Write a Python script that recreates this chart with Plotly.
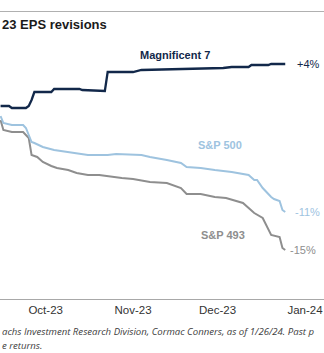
import pandas as pd
import plotly.graph_objects as go

# ---- data (values in % revision) ----
mag7_dates = ["2023-09-15", "2023-09-18", "2023-09-19", "2023-09-24", "2023-09-25", "2023-09-26",
              "2023-09-27", "2023-10-03", "2023-10-04", "2023-10-13", "2023-10-14", "2023-10-22",
              "2023-10-23", "2023-11-01", "2023-11-04", "2023-11-21", "2023-11-30", "2023-12-03",
              "2023-12-06", "2023-12-12", "2023-12-13", "2023-12-19", "2023-12-20", "2023-12-25"]
mag7_vals = [-0.2, -0.2, -0.4, -0.4, -0.2, 0.4,
             1.2, 1.2, 1.5, 1.5, 1.4, 1.3,
             3.2, 3.2, 3.4, 3.5, 3.6, 3.6,
             3.7, 3.7, 3.9, 3.9, 4.0, 4.0]

spx_dates = ["2023-09-15", "2023-09-16", "2023-09-19", "2023-09-23", "2023-09-24", "2023-09-26",
             "2023-09-27", "2023-09-30", "2023-10-04", "2023-10-09", "2023-10-16", "2023-10-23",
             "2023-10-26", "2023-11-04", "2023-11-07", "2023-11-13", "2023-11-18", "2023-11-20",
             "2023-11-25", "2023-11-30", "2023-12-06", "2023-12-12", "2023-12-14", "2023-12-15",
             "2023-12-17", "2023-12-20", "2023-12-21", "2023-12-23", "2023-12-24", "2023-12-25"]
spx_vals = [-1.2, -1.9, -2.1, -2.1, -2.4, -3.8,
            -3.9, -4.3, -4.6, -4.8, -5.1, -5.1,
            -5.0, -5.1, -5.3, -5.6, -5.9, -6.3,
            -6.4, -6.6, -6.8, -7.1, -7.6, -7.6,
            -8.4, -9.3, -9.5, -9.7, -10.6, -10.8]

s493_dates = ["2023-09-15", "2023-09-16", "2023-09-19", "2023-09-23", "2023-09-25", "2023-09-26",
              "2023-09-28", "2023-09-30", "2023-10-03", "2023-10-05", "2023-10-09", "2023-10-12",
              "2023-10-16", "2023-10-20", "2023-10-28", "2023-11-01", "2023-11-07", "2023-11-13",
              "2023-11-18", "2023-11-20", "2023-11-25", "2023-11-30", "2023-12-04", "2023-12-10",
              "2023-12-14", "2023-12-17", "2023-12-20", "2023-12-23", "2023-12-24", "2023-12-25"]
s493_vals = [-1.6, -2.6, -2.8, -2.8, -3.4, -5.1,
             -5.3, -5.8, -6.2, -6.4, -6.6, -6.9,
             -7.1, -7.1, -7.4, -7.5, -7.8, -7.9,
             -8.4, -9.0, -9.0, -9.3, -9.4, -9.9,
             -10.9, -11.4, -13.1, -13.3, -14.4, -14.6]

tick_dates = ["2023-10-01", "2023-11-01", "2023-12-01", "2024-01-01"]
tick_labels = ["Oct-23", "Nov-23", "Dec-23", "Jan-24"]

series_names = ["Magnificent 7", "S&P 500", "S&P 493"]
end_labels = ["+4%", "-11%", "-15%"]

NAVY = "#12284a"
LIGHT = "#9ec3df"
GRAY = "#8e8e8e"
FONT = "Liberation Sans, Arial, sans-serif"

W, H = 324, 353
T, B = 40, 54
plot_h = H - T - B

def py(pix):
    return (H - B - pix) / plot_h

x0 = pd.Timestamp("2023-10-01") - pd.Timedelta(days=16.2)
x1 = pd.Timestamp("2024-01-01") + pd.Timedelta(days=6.75)
y_top = (104 - T) / 10
y_bot = -(H - B - 104) / 10

fig = go.Figure()
for d, v, c, w in [(s493_dates, s493_vals, GRAY, 2), (spx_dates, spx_vals, LIGHT, 2),
                   (mag7_dates, mag7_vals, NAVY, 2.3)]:
    fig.add_trace(go.Scatter(x=d, y=v, mode="lines", line=dict(color=c, width=w), showlegend=False,
                             hoverinfo="skip"))

anns = []
anns.append(dict(x="2023-11-16", y=4.9, text="<b>" + series_names[0] + "</b>", font=dict(color=NAVY, size=11)))
anns.append(dict(x="2023-12-02", y=-4.1, text="<b>" + series_names[1] + "</b>", font=dict(color=LIGHT, size=11)))
anns.append(dict(x="2023-12-03", y=-13.1, text="<b>" + series_names[2] + "</b>", font=dict(color=GRAY, size=11)))
for d, v, c, t, xs in [(mag7_dates, mag7_vals, NAVY, end_labels[0], 10),
                       (spx_dates, spx_vals, LIGHT, end_labels[1], 8),
                       (s493_dates, s493_vals, GRAY, end_labels[2], 3)]:
    anns.append(dict(x=d[-1], y=v[-1], text=t, xanchor="left", xshift=xs,
                     font=dict(color=c, size=11)))
for a in anns:
    a["xref"] = "x"
    a["yref"] = "y"
    a["showarrow"] = False
    a["font"]["family"] = FONT

anns.append(dict(xref="paper", yref="paper", x=0, y=py(25), xanchor="left", yanchor="middle",
                 text="<b>23 EPS revisions</b>", showarrow=False,
                 font=dict(family=FONT, size=13, color="#1a1a1a")))
anns.append(dict(xref="paper", yref="paper", x=0, y=py(331.5), xanchor="left", yanchor="middle",
                 text="<i>achs Investment Research Division, Cormac Conners, as of 1/26/24. Past p</i>",
                 showarrow=False,
                 font=dict(family="Open Sans, sans-serif", size=9.6, color="#404040")))
anns.append(dict(xref="paper", yref="paper", x=0, y=py(345), xanchor="left", yanchor="middle",
                 text="<i>e returns.</i>", showarrow=False,
                 font=dict(family="Open Sans, sans-serif", size=9.6, color="#404040")))

fig.update_layout(
    width=W, height=H,
    margin=dict(l=0, r=0, t=T, b=B),
    paper_bgcolor="white", plot_bgcolor="white",
    annotations=anns,
    shapes=[dict(type="line", xref="paper", yref="paper", x0=0, x1=1, y0=py(11.5), y1=py(11.5),
                 line=dict(color="#b0b0b0", width=1))],
    xaxis=dict(type="date", range=[x0, x1], tickmode="array", tickvals=tick_dates, ticktext=tick_labels,
               showgrid=False, zeroline=False, showline=True, linecolor="#a8a8a8", linewidth=1,
               ticks="", tickfont=dict(family=FONT, size=11.5, color="#333333")),
    yaxis=dict(range=[y_bot, y_top],
               showgrid=False, zeroline=False, showline=False, showticklabels=False, ticks=""),
)

fig.write_html("out.html")
